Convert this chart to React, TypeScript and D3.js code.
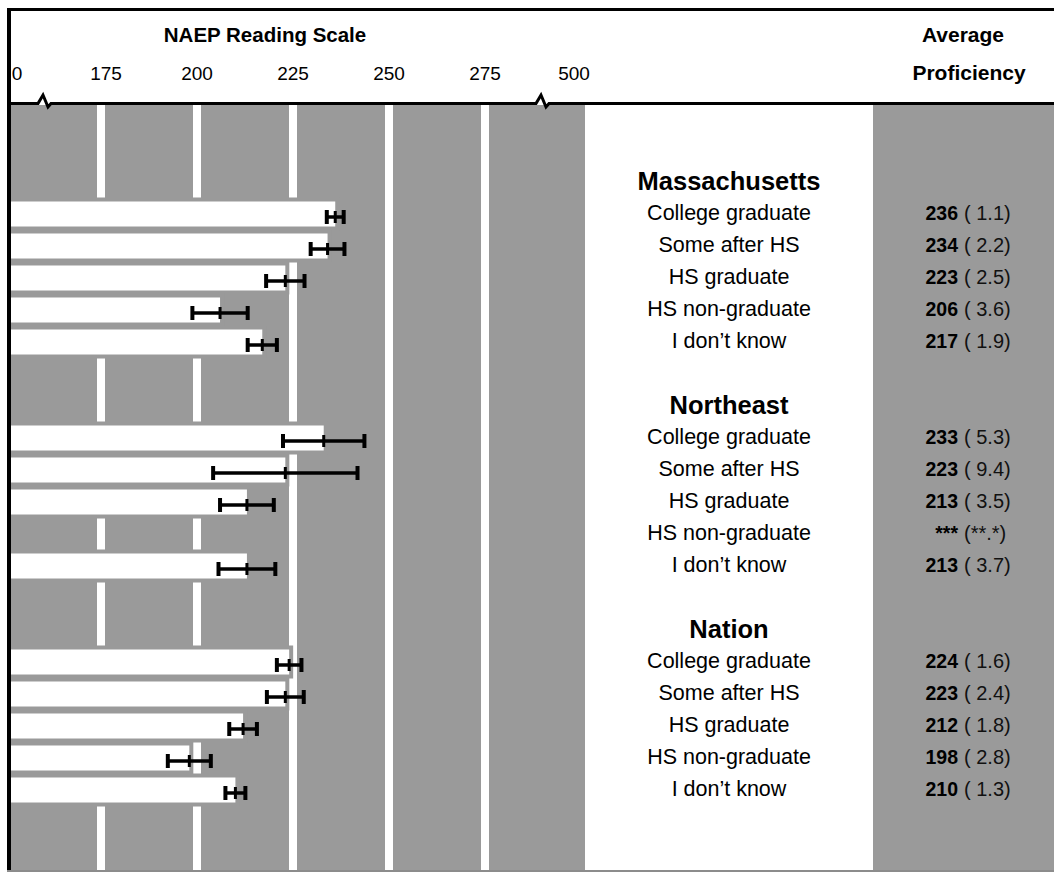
import React from 'react';
import * as d3 from 'd3';

const groups = ['Massachusetts', 'Northeast', 'Nation'];
const categories = ['College graduate', 'Some after HS', 'HS graduate', 'HS non-graduate', 'I don’t know'];
const massValues = [236, 234, 223, 206, 217];
const massSE = [1.1, 2.2, 2.5, 3.6, 1.9];
const northeastValues: (number | null)[] = [233, 223, 213, null, 213];
const northeastSE: (number | null)[] = [5.3, 9.4, 3.5, null, 3.7];
const nationValues = [224, 223, 212, 198, 210];
const nationSE = [1.6, 2.4, 1.8, 2.8, 1.3];
const tickValues = [175, 200, 225, 250, 275];
const tickLabels = ['175', '200', '225', '250', '275'];

const W = 1054;
const H = 873;
const FONT = "'Liberation Sans', Arial, Helvetica, sans-serif";
const GRAY = '#9a9a9a';

type Row = { group: string; cat: string; value: number | null; se: number | null; slot: number };

const seriesValues = [massValues, northeastValues, nationValues];
const seriesSE = [massSE, northeastSE, nationSE];

const rows: Row[] = [];
groups.forEach((g, gi) => {
  categories.forEach((c, ci) => {
    rows.push({ group: g, cat: c, value: seriesValues[gi][ci], se: seriesSE[gi][ci], slot: gi * 7 + 1 + ci });
  });
});

export default function App() {
  const x = d3.scaleLinear().domain([175, 275]).range([101, 485]);
  const p = 7 / 32;
  const y = d3
    .scaleBand<number>()
    .domain(d3.range(20))
    .range([166, 806])
    .paddingInner(p)
    .paddingOuter(p / 2);
  const bw = y.bandwidth();
  const left = 11;
  const plotTop = 105;
  const plotBottom = 870;
  const plotRight = 585;
  const rightColX = 873;
  const lineY = 103.5;
  const breaks = [43, 541];

  let headerPath = `M7,${lineY}`;
  breaks.forEach((b) => {
    headerPath += ` L${b - 5},${lineY} L${b},95 L${b + 5},107 L${b + 8},${lineY}`;
  });
  headerPath += ` L${W},${lineY}`;

  const drawn = rows.filter((r) => r.value != null);

  return (
    <svg
      width={W}
      height={H}
      viewBox={`0 0 ${W} ${H}`}
      style={{ position: 'absolute', left: 0, top: 0, background: '#fff' }}
      fontFamily={FONT}
    >
      {/* plot background */}
      <rect x={left} y={plotTop} width={plotRight - left} height={plotBottom - plotTop} fill={GRAY} />
      {/* white gridlines */}
      {tickValues.map((t) => (
        <rect key={t} x={x(t) - 4} y={plotTop} width={8} height={plotBottom - plotTop} fill="#fff" />
      ))}
      {/* right column */}
      <rect x={rightColX} y={plotTop} width={W - rightColX} height={plotBottom - plotTop} fill={GRAY} />

      {/* bar backing bands */}
      {drawn.map((r, i) => (
        <rect
          key={'band' + i}
          x={left}
          y={(y(r.slot) as number) - 4}
          width={x(r.value as number) + 4 - left}
          height={bw + 8}
          fill={GRAY}
        />
      ))}
      {/* bars */}
      {drawn.map((r, i) => (
        <rect
          key={'bar' + i}
          x={left}
          y={y(r.slot) as number}
          width={x(r.value as number) - left}
          height={bw}
          fill="#fff"
        />
      ))}
      {/* error bars */}
      {drawn.map((r, i) => {
        const cy = (y(r.slot) as number) + bw / 2 + 3;
        const v = r.value as number;
        const se = r.se as number;
        const x0 = x(v - 2 * se);
        const x1 = x(v + 2 * se);
        const xc = x(v);
        return (
          <g key={'err' + i} stroke="#000" strokeLinecap="butt">
            <line x1={x0} x2={x1} y1={cy} y2={cy} strokeWidth={3.5} />
            <line x1={x0} x2={x0} y1={cy - 7} y2={cy + 7} strokeWidth={4} />
            <line x1={x1} x2={x1} y1={cy - 7} y2={cy + 7} strokeWidth={4} />
            <line x1={xc} x2={xc} y1={cy - 6} y2={cy + 6} strokeWidth={3} />
          </g>
        );
      })}

      {/* frame & header */}
      <rect x={7} y={8} width={W - 7} height={3} fill="#000" />
      <rect x={7} y={8} width={4} height={plotBottom - 8} fill="#000" />
      <path d={headerPath} fill="none" stroke="#000" strokeWidth={3} strokeLinejoin="miter" />
      <line x1={7} x2={W} y1={871} y2={871} stroke="#666" strokeWidth={1.5} />

      <text x={265} y={42} textAnchor="middle" fontWeight="bold" fontSize={20.5}>NAEP Reading Scale</text>
      <text x={17} y={80} textAnchor="middle" fontSize={19}>0</text>
      {tickValues.map((t, i) => (
        <text key={'tl' + t} x={x(t) + (i === 0 ? 5 : 0)} y={80} textAnchor="middle" fontSize={19}>{tickLabels[i]}</text>
      ))}
      <text x={574} y={80} textAnchor="middle" fontSize={19}>500</text>
      <text x={963} y={42} textAnchor="middle" fontWeight="bold" fontSize={21}>Average</text>
      <text x={969} y={80} textAnchor="middle" fontWeight="bold" fontSize={21}>Proficiency</text>

      {/* group titles */}
      {groups.map((g, gi) => (
        <text key={g} x={729} y={(y(gi * 7) as number) + bw / 2 + 8} textAnchor="middle" fontWeight="bold" fontSize={25.5}>{g}</text>
      ))}
      {/* row labels & values */}
      {rows.map((r, i) => {
        const cy = (y(r.slot) as number) + bw / 2;
        return (
          <g key={'lab' + i}>
            <text x={729} y={cy + 6} textAnchor="middle" fontSize={21.5}>{r.cat}</text>
            <text x={958} y={cy + 6} textAnchor="end" fontWeight="bold" fontSize={19.5}>
              {r.value == null ? '***' : String(r.value)}
            </text>
            <text x={964} y={cy + 6} textAnchor="start" fontSize={20} fill="#111">
              {r.se == null ? '(**.*)' : `( ${(r.se as number).toFixed(1)})`}
            </text>
          </g>
        );
      })}
    </svg>
  );
}
